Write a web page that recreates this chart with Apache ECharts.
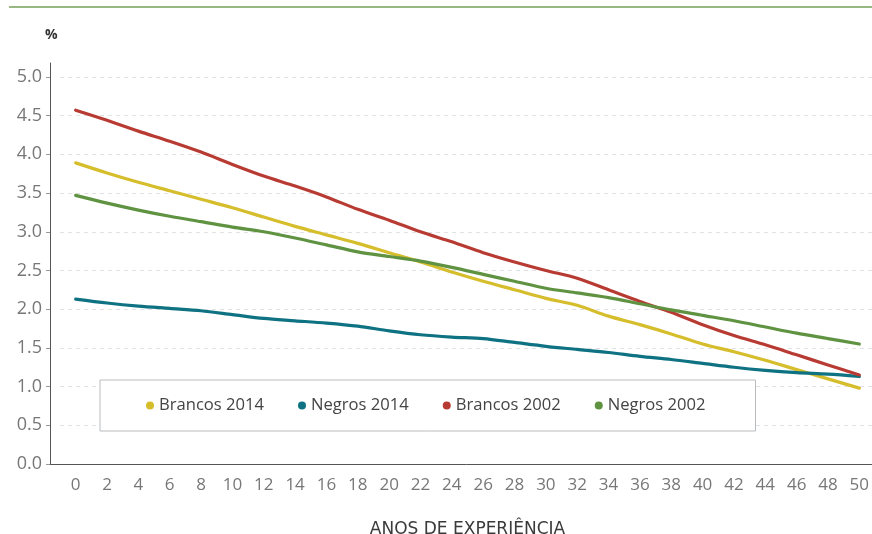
<!DOCTYPE html>
<html>
<head>
<meta charset="utf-8">
<script src="https://cdn.jsdelivr.net/npm/echarts@6/dist/echarts.min.js"></script>
<style>
  html, body { margin: 0; padding: 0; background: #fff; }
  #chart { width: 872px; height: 534px; }
</style>
</head>
<body>
<div id="chart"></div>
<script>
// anos de experiência (0..50, de 2 em 2)
const anos = ["0", "2", "4", "6", "8", "10", "12", "14", "16", "18", "20", "22", "24",
  "26", "28", "30", "32", "34", "36", "38", "40", "42", "44", "46", "48", "50"];

const brancos2014 = [3.89, 3.76, 3.64, 3.53, 3.42, 3.31, 3.19, 3.07, 2.96, 2.85, 2.73, 2.61, 2.48,
  2.36, 2.25, 2.14, 2.05, 1.91, 1.80, 1.68, 1.55, 1.45, 1.34, 1.22, 1.10, 0.98];
const negros2014 = [2.13, 2.08, 2.04, 2.01, 1.98, 1.93, 1.88, 1.85, 1.82, 1.78, 1.72, 1.67, 1.64,
  1.62, 1.57, 1.52, 1.48, 1.44, 1.39, 1.35, 1.30, 1.25, 1.21, 1.18, 1.16, 1.13];
const brancos2002 = [4.57, 4.44, 4.30, 4.17, 4.03, 3.87, 3.72, 3.59, 3.45, 3.29, 3.15, 3.00, 2.87,
  2.73, 2.61, 2.50, 2.40, 2.25, 2.10, 1.96, 1.80, 1.66, 1.54, 1.41, 1.28, 1.15];
const negros2002 = [3.47, 3.37, 3.28, 3.20, 3.13, 3.06, 3.00, 2.92, 2.83, 2.74, 2.68, 2.62, 2.54,
  2.45, 2.36, 2.27, 2.21, 2.15, 2.07, 1.99, 1.92, 1.85, 1.77, 1.69, 1.62, 1.55];

const fonte = "'Open Sans', sans-serif";

const chart = echarts.init(document.getElementById("chart"));

function linha(nome, dados, cor) {
  return {
    name: nome,
    type: "line",
    data: dados,
    smooth: 0.3,
    symbol: "none",
    lineStyle: { color: cor, width: 3.2, cap: "round" },
    itemStyle: { color: cor },
  };
}

const option = {
  animation: false,
  backgroundColor: "#fff",
  textStyle: { fontFamily: fonte },
  grid: { left: 60, right: -3, top: 63, bottom: 70, outerBoundsMode: "none", containLabel: false },
  graphic: [
    {
      type: "line",
      shape: { x1: 9, y1: 7, x2: 872, y2: 7 },
      style: { stroke: "#76a157", lineWidth: 1.5 },
    },
    {
      type: "line",
      shape: { x1: 50, y1: 464.5, x2: 60, y2: 464.5 },
      style: { stroke: "#555", lineWidth: 1 },
    },
    {
      type: "text",
      left: 45,
      top: 28,
      style: { text: "%", fill: "#333", font: "bold 14px " + fonte },
    },
  ],
  legend: {
    left: 100,
    top: 380,
    padding: [17, 50, 17, 46],
    backgroundColor: "#fff",
    borderColor: "#b8bcbf",
    borderWidth: 1,
    icon: "circle",
    itemWidth: 8,
    itemHeight: 8,
    itemGap: 34,
    textStyle: { fontSize: 16.6, color: "#444", fontFamily: fonte },
    data: ["Brancos 2014", "Negros 2014", "Brancos 2002", "Negros 2002"],
  },
  xAxis: {
    type: "category",
    data: anos,
    boundaryGap: true,
    name: "ANOS DE EXPERIÊNCIA",
    nameLocation: "middle",
    nameGap: 57,
    nameTextStyle: { fontSize: 17, color: "#3a3a3a", fontFamily: "'DejaVu Sans', sans-serif" },
    axisLine: { lineStyle: { color: "#555" } },
    axisTick: { length: 5, lineStyle: { color: "#555" } },
    axisLabel: { fontSize: 17, color: "#777", margin: 13, fontFamily: fonte },
    splitLine: { show: false },
  },
  yAxis: {
    type: "value",
    min: 0,
    max: 5.18,
    interval: 0.5,
    offset: 10,
    axisLine: { show: true, lineStyle: { color: "#555" } },
    axisTick: { show: true, length: 4, lineStyle: { color: "#999" } },
    axisLabel: {
      fontSize: 18,
      color: "#777",
      margin: 8,
      fontFamily: fonte,
      showMaxLabel: false,
      formatter: (v) => v.toFixed(1),
    },
    splitLine: {
      show: true,
      showMaxLine: false,
      lineStyle: { color: "#e2e2e2", type: [4, 4] },
    },
  },
  series: [
    linha("Brancos 2014", brancos2014, "#d6bd2b"),
    linha("Negros 2014", negros2014, "#0e7283"),
    linha("Brancos 2002", brancos2002, "#b83b33"),
    linha("Negros 2002", negros2002, "#5f9341"),
  ],
};

chart.setOption(option);
</script>
</body>
</html>
